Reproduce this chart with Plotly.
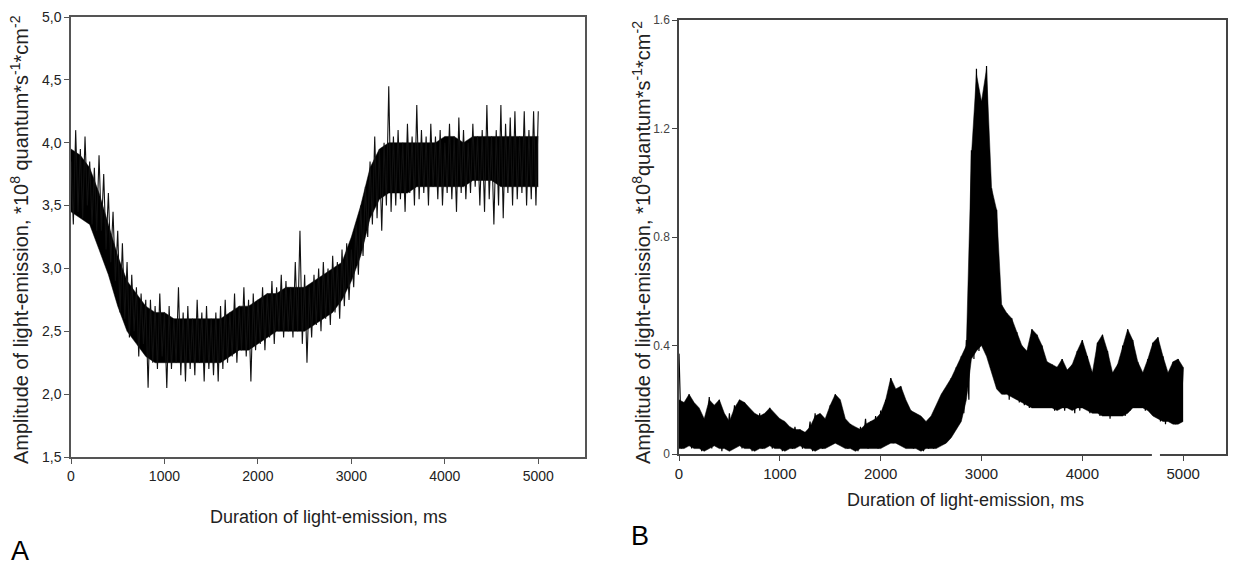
#!/bin/env python

import plotly.graph_objects as go

# ------------------------------------------------------------------------------

# Sampling step of the spiky traces (ms)
STEP = 25
# Sampling step of the dense-band envelopes (ms)
ENV_STEP_A = 100
ENV_STEP_B = 50

# Panel A: amplitude, *10^8 quantum*s^-1*cm^-2
amp_a = [
    3.85, 3.35, 4.10, 3.45, 3.95, 3.40, 4.05, 3.50, 3.85, 3.35, 3.80,
    3.30, 3.90, 3.30, 3.75, 3.15, 3.60, 3.05, 3.45, 2.90, 3.30,
    2.65, 3.20, 2.60, 3.05, 2.45, 2.95, 2.50, 2.85, 2.30, 2.80, 2.40, 2.75,
    2.05, 2.75, 2.25, 2.70, 2.20, 2.80, 2.30, 2.65, 2.05, 2.70, 2.20, 2.60,
    2.25, 2.85, 2.15, 2.65, 2.10, 2.70, 2.20, 2.60, 2.15, 2.75, 2.25, 2.65,
    2.10, 2.70, 2.20, 2.60, 2.15, 2.65, 2.10, 2.70,
    2.20, 2.75, 2.25, 2.65, 2.30, 2.80, 2.25, 2.70, 2.35, 2.85, 2.30, 2.75,
    2.10, 2.80, 2.35, 2.75,
    2.40, 2.85, 2.35, 2.80, 2.45, 2.90, 2.40, 2.85, 2.50, 2.95, 2.45, 2.90,
    2.50, 2.85, 2.45, 3.05, 2.50, 3.30, 2.40, 2.95,
    2.25, 2.85, 2.45, 2.95, 2.55, 3.00, 2.50, 3.05, 2.60, 3.00, 2.55, 3.10,
    2.65, 3.05, 2.60, 3.15, 2.70, 3.20, 2.75, 3.15,
    2.85, 3.35, 2.95, 3.50, 3.10, 3.65, 3.25, 3.85,
    3.35, 4.05, 3.40, 3.95, 3.30, 4.00, 3.50, 4.45, 3.45, 4.05,
    3.50, 4.10, 3.55, 4.00, 3.45, 4.15, 3.60, 4.05, 3.50, 4.30, 3.55, 4.10,
    3.60, 4.05, 3.50, 4.15, 3.65, 4.05, 3.55, 4.10, 3.50, 4.00, 3.60, 4.15,
    3.55, 4.05, 3.45, 4.20, 3.60, 4.10, 3.55, 4.00, 3.60, 4.15, 3.65, 4.05,
    3.50, 4.10, 3.45, 4.30, 3.55, 4.05, 3.35, 4.10, 3.50, 4.30, 3.40, 4.15,
    3.60, 4.20, 3.50, 4.25, 3.55, 4.05, 3.60, 4.25, 3.50, 4.10, 3.55, 4.25,
    3.50, 4.25,
]

# Panel A: dense core of the trace, every 100 ms
core_hi_a = [
    3.95, 3.90, 3.80, 3.60, 3.35, 3.10, 2.90, 2.80, 2.70, 2.65,
    2.65, 2.60, 2.60, 2.60, 2.60, 2.60, 2.60, 2.65, 2.70, 2.70,
    2.75, 2.80, 2.80, 2.85, 2.85, 2.85, 2.90, 2.95, 3.00, 3.05,
    3.25, 3.50, 3.80, 3.95, 4.00, 4.00, 4.00, 4.00, 4.00, 4.00,
    4.05, 4.05, 4.00, 4.05, 4.05, 4.05, 4.05, 4.05, 4.05, 4.05, 4.05,
]
core_lo_a = [
    3.45, 3.40, 3.35, 3.15, 2.95, 2.70, 2.50, 2.40, 2.30, 2.25,
    2.25, 2.25, 2.25, 2.25, 2.25, 2.25, 2.25, 2.30, 2.35, 2.35,
    2.40, 2.45, 2.50, 2.50, 2.50, 2.50, 2.55, 2.60, 2.65, 2.75,
    2.90, 3.10, 3.40, 3.55, 3.60, 3.60, 3.60, 3.65, 3.65, 3.65,
    3.65, 3.65, 3.65, 3.70, 3.70, 3.70, 3.65, 3.65, 3.65, 3.65, 3.65,
]

# Panel B: amplitude, *10^8 quantum*s^-1*cm^-2
amp_b = [
    0.37, 0.02, 0.19, 0.03, 0.22, 0.02, 0.18, 0.04, 0.16, 0.01, 0.13,
    0.03, 0.21, 0.02, 0.17, 0.04, 0.20, 0.01, 0.12, 0.03, 0.15,
    0.02, 0.18, 0.04, 0.20, 0.02, 0.19, 0.05, 0.16, 0.01, 0.14,
    0.03, 0.15, 0.02, 0.12, 0.04, 0.17, 0.02, 0.14, 0.03, 0.13,
    0.01, 0.11, 0.04, 0.10, 0.02, 0.10, 0.03, 0.09, 0.02, 0.08,
    0.04, 0.12, 0.01, 0.15, 0.03, 0.14, 0.02, 0.10, 0.04, 0.18,
    0.05, 0.22, 0.06, 0.19, 0.03, 0.12, 0.02, 0.11, 0.04, 0.09,
    0.01, 0.10, 0.03, 0.13, 0.02, 0.12, 0.04, 0.14, 0.02, 0.16,
    0.05, 0.20, 0.06, 0.28, 0.04, 0.23, 0.07, 0.25, 0.03, 0.19,
    0.05, 0.16, 0.02, 0.14, 0.03, 0.12, 0.01, 0.10, 0.02, 0.13,
    0.02, 0.16, 0.03, 0.21, 0.04, 0.24, 0.07, 0.28, 0.10, 0.32,
    0.12, 0.36, 0.15, 0.42, 0.20, 1.12, 0.35, 1.42, 0.38, 1.30,
    0.40, 1.43, 0.36, 0.98, 0.30, 0.90, 0.24, 0.55, 0.22, 0.52,
    0.20, 0.50, 0.21, 0.45, 0.19, 0.40, 0.18, 0.38, 0.17, 0.46,
    0.18, 0.44, 0.17, 0.40, 0.18, 0.34, 0.17, 0.33, 0.16, 0.32,
    0.17, 0.35, 0.16, 0.31, 0.17, 0.33, 0.15, 0.38, 0.16, 0.42,
    0.17, 0.36, 0.15, 0.30, 0.16, 0.41, 0.14, 0.44, 0.15, 0.38,
    0.13, 0.30, 0.14, 0.33, 0.15, 0.40, 0.14, 0.46, 0.16, 0.42,
    0.18, 0.34, 0.17, 0.30, 0.16, 0.35, 0.18, 0.41, 0.14, 0.43,
    0.12, 0.36, 0.11, 0.30, 0.12, 0.34, 0.11, 0.35, 0.12, 0.32,
]

# Panel B: dense core of the trace, every 50 ms
core_hi_b = [
    0.20, 0.19, 0.22, 0.19, 0.17, 0.13, 0.20, 0.18, 0.20, 0.15,
    0.12, 0.17, 0.20, 0.19, 0.17, 0.15, 0.14, 0.15, 0.17, 0.15,
    0.13, 0.12, 0.10, 0.09, 0.09, 0.08, 0.10, 0.14, 0.15, 0.13,
    0.18, 0.22, 0.20, 0.13, 0.11, 0.10, 0.09, 0.11, 0.12, 0.13,
    0.15, 0.20, 0.28, 0.24, 0.25, 0.20, 0.16, 0.15, 0.14, 0.12,
    0.14, 0.18, 0.22, 0.25, 0.28, 0.32, 0.36, 0.40, 1.10, 1.40,
    1.30, 1.42, 0.98, 0.90, 0.55, 0.52, 0.50, 0.45, 0.40, 0.38,
    0.46, 0.44, 0.40, 0.34, 0.33, 0.32, 0.35, 0.31, 0.33, 0.38,
    0.42, 0.36, 0.30, 0.41, 0.44, 0.38, 0.30, 0.33, 0.40, 0.46,
    0.42, 0.34, 0.30, 0.35, 0.41, 0.43, 0.36, 0.30, 0.34, 0.35, 0.32,
]
core_lo_b = [
    0.02, 0.02, 0.03, 0.02, 0.02, 0.01, 0.02, 0.03, 0.02, 0.02,
    0.01, 0.02, 0.03, 0.02, 0.02, 0.01, 0.02, 0.02, 0.03, 0.02,
    0.02, 0.01, 0.02, 0.02, 0.03, 0.02, 0.02, 0.01, 0.02, 0.02,
    0.03, 0.04, 0.03, 0.02, 0.02, 0.01, 0.02, 0.02, 0.02, 0.02,
    0.02, 0.03, 0.04, 0.04, 0.03, 0.02, 0.02, 0.02, 0.01, 0.02,
    0.02, 0.02, 0.03, 0.04, 0.06, 0.09, 0.12, 0.20, 0.35, 0.38,
    0.40, 0.36, 0.30, 0.24, 0.22, 0.22, 0.21, 0.20, 0.19, 0.18,
    0.17, 0.17, 0.17, 0.17, 0.17, 0.16, 0.17, 0.17, 0.16, 0.17,
    0.17, 0.16, 0.15, 0.15, 0.14, 0.14, 0.14, 0.14, 0.14, 0.15,
    0.17, 0.17, 0.17, 0.16, 0.14, 0.13, 0.12, 0.12, 0.11, 0.11, 0.12,
]

time_a = [i * STEP for i in range(len(amp_a))]
time_b = [i * STEP for i in range(len(amp_b))]
env_time_a = [i * ENV_STEP_A for i in range(len(core_hi_a))]
env_time_b = [i * ENV_STEP_B for i in range(len(core_hi_b))]

# Tick labels
x_ticks = [0, 1000, 2000, 3000, 4000, 5000]
a_yticks = [1.5, 2.0, 2.5, 3.0, 3.5, 4.0, 4.5, 5.0]
a_ylabels = ["1,5", "2,0", "2,5", "3,0", "3,5", "4,0", "4,5", "5,0"]
b_yticks = [0, 0.4, 0.8, 1.2, 1.6]
b_ylabels = ["0", "0.4", "0.8", "1.2", "1.6"]

W, H = 1236, 567
FONT = "Liberation Sans, Arial, sans-serif"

def px(x):
    return x / W

def py(y):
    return 1 - y / H

# ------------------------------------------------------------------------------

fig = go.Figure()

def add_band(t, lo, hi, xa, ya):
    # Dense black core: fill between the lower and upper envelope
    fig.add_trace(go.Scatter(x=t, y=lo, mode="lines", line=dict(color="black", width=0.5),
        xaxis=xa, yaxis=ya, showlegend=False, hoverinfo="skip"))
    fig.add_trace(go.Scatter(x=t, y=hi, mode="lines", line=dict(color="black", width=0.5),
        fill="tonexty", fillcolor="black", xaxis=xa, yaxis=ya, showlegend=False,
        hoverinfo="skip"))

add_band(env_time_a, core_lo_a, core_hi_a, "x", "y")
fig.add_trace(go.Scatter(x=time_a, y=amp_a, mode="lines",
    line=dict(color="#111", width=1.1), xaxis="x", yaxis="y", showlegend=False))

add_band(env_time_b, core_lo_b, core_hi_b, "x2", "y2")
fig.add_trace(go.Scatter(x=time_b, y=amp_b, mode="lines",
    line=dict(color="black", width=1.2), xaxis="x2", yaxis="y2", showlegend=False))

axis_common = dict(showgrid=False, zeroline=False, showline=True, linewidth=1.5,
    mirror=True, ticks="outside", ticklen=5, tickwidth=1.2, automargin=False)

fig.update_layout(
    width=W, height=H,
    margin=dict(l=0, r=0, t=0, b=0, autoexpand=False),
    paper_bgcolor="white", plot_bgcolor="white",
    font=dict(family=FONT, color="#222", size=14),
    xaxis=dict(domain=[px(71), px(585)], range=[0, 5500], tickvals=x_ticks,
        linecolor="#555", tickcolor="#555", tickfont=dict(size=14), anchor="y", **axis_common),
    yaxis=dict(domain=[py(457), py(17)], range=[1.5, 5.0], tickvals=a_yticks,
        ticktext=a_ylabels, linecolor="#555", tickcolor="#555",
        tickfont=dict(size=14), anchor="x", **axis_common),
    xaxis2=dict(domain=[px(679), px(1226)], range=[0, 5425], tickvals=x_ticks,
        linecolor="#444", tickcolor="#444", tickfont=dict(size=15), anchor="y2", **axis_common),
    yaxis2=dict(domain=[py(454), py(20)], range=[0, 1.6], tickvals=b_yticks,
        ticktext=b_ylabels, linecolor="#444", tickcolor="#444",
        tickfont=dict(size=12, color="#444"), anchor="x2", **axis_common),
)

# ----------------
# Axis titles and panel letters

ann = [
    dict(x=px(329), y=py(517), text="Duration of light-emission, ms", font=dict(size=18)),
    dict(x=px(19), y=py(240), textangle=-90, font=dict(size=20),
        text="Amplitude of light-emission, *10<sup>8</sup> quantum*s<sup>-1</sup>*cm<sup>-2</sup>"),
    dict(x=px(965), y=py(500), text="Duration of light-emission, ms", font=dict(size=18)),
    dict(x=px(641), y=py(243), textangle=-90, font=dict(size=20),
        text="Amplitude of light-emission, *10<sup>8</sup>quantum*s<sup>-1</sup>*cm<sup>-2</sup>"),
    dict(x=px(20), y=py(551), text="A", font=dict(size=27, color="black")),
    dict(x=px(640), y=py(536), text="B", font=dict(size=27, color="black")),
]
for a in ann:
    fig.add_annotation(xref="paper", yref="paper", showarrow=False,
        xanchor="center", yanchor="middle", **a)

# small break in the bottom axis of panel B
fig.add_shape(type="rect", xref="x2", yref="paper", x0=4690, x1=4770,
    y0=py(458), y1=py(450), fillcolor="white", line_width=0, layer="above")

# drop the default page margin so the figure sits in the window corner
fig.write_html("out.html", config={"displayModeBar": False},
    post_script="document.body.style.margin='0'; document.body.style.overflow='hidden';")
